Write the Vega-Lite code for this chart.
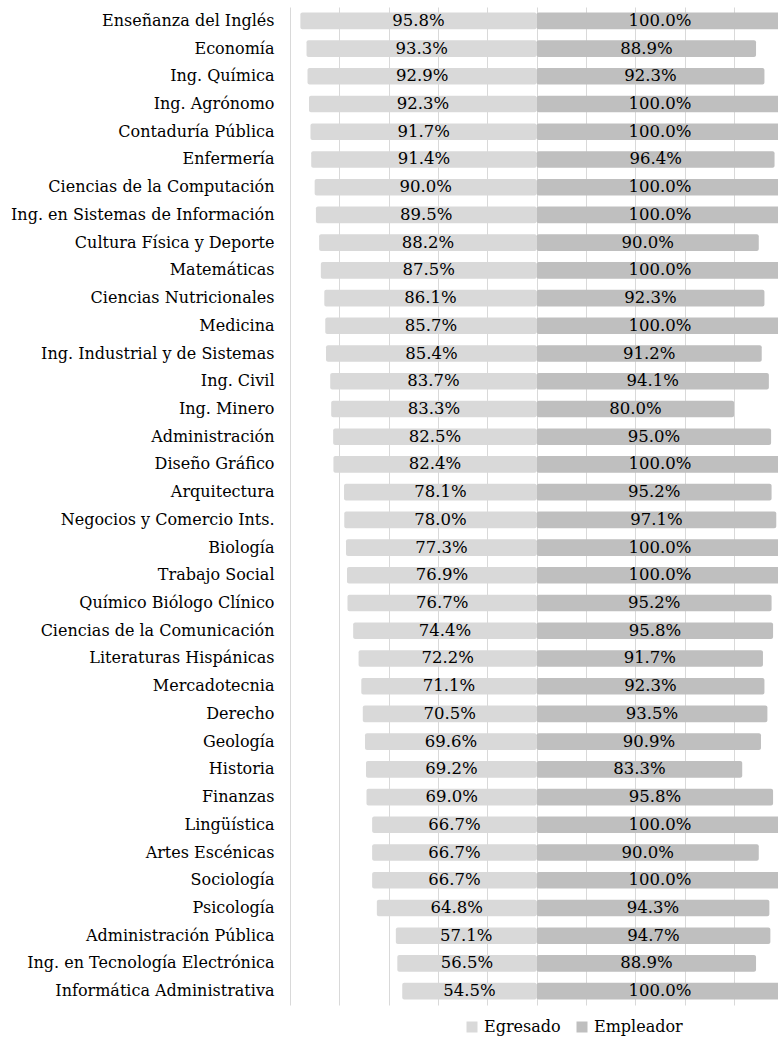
{
  "$schema": "https://vega.github.io/schema/vega-lite/v6.json",
  "width": 488,
  "height": 998,
  "autosize": {"type": "none"},
  "padding": {"left": 290, "top": 7, "right": 0, "bottom": 35},
  "background": "white",
  "config": {"view": {"stroke": null}, "font": "DejaVu Serif"},
  "data": {"values": [
    {"carrera": "Enseñanza del Inglés", "serie": "Egresado", "valor": 95.8},
    {"carrera": "Economía", "serie": "Egresado", "valor": 93.3},
    {"carrera": "Ing. Química", "serie": "Egresado", "valor": 92.9},
    {"carrera": "Ing. Agrónomo", "serie": "Egresado", "valor": 92.3},
    {"carrera": "Contaduría Pública", "serie": "Egresado", "valor": 91.7},
    {"carrera": "Enfermería", "serie": "Egresado", "valor": 91.4},
    {"carrera": "Ciencias de la Computación", "serie": "Egresado", "valor": 90.0},
    {"carrera": "Ing. en Sistemas de Información", "serie": "Egresado", "valor": 89.5},
    {"carrera": "Cultura Física y Deporte", "serie": "Egresado", "valor": 88.2},
    {"carrera": "Matemáticas", "serie": "Egresado", "valor": 87.5},
    {"carrera": "Ciencias Nutricionales", "serie": "Egresado", "valor": 86.1},
    {"carrera": "Medicina", "serie": "Egresado", "valor": 85.7},
    {"carrera": "Ing. Industrial y de Sistemas", "serie": "Egresado", "valor": 85.4},
    {"carrera": "Ing. Civil", "serie": "Egresado", "valor": 83.7},
    {"carrera": "Ing. Minero", "serie": "Egresado", "valor": 83.3},
    {"carrera": "Administración", "serie": "Egresado", "valor": 82.5},
    {"carrera": "Diseño Gráfico", "serie": "Egresado", "valor": 82.4},
    {"carrera": "Arquitectura", "serie": "Egresado", "valor": 78.1},
    {"carrera": "Negocios y Comercio Ints.", "serie": "Egresado", "valor": 78.0},
    {"carrera": "Biología", "serie": "Egresado", "valor": 77.3},
    {"carrera": "Trabajo Social", "serie": "Egresado", "valor": 76.9},
    {"carrera": "Químico Biólogo Clínico", "serie": "Egresado", "valor": 76.7},
    {"carrera": "Ciencias de la Comunicación", "serie": "Egresado", "valor": 74.4},
    {"carrera": "Literaturas Hispánicas", "serie": "Egresado", "valor": 72.2},
    {"carrera": "Mercadotecnia", "serie": "Egresado", "valor": 71.1},
    {"carrera": "Derecho ", "serie": "Egresado", "valor": 70.5},
    {"carrera": "Geología", "serie": "Egresado", "valor": 69.6},
    {"carrera": "Historia", "serie": "Egresado", "valor": 69.2},
    {"carrera": "Finanzas", "serie": "Egresado", "valor": 69.0},
    {"carrera": "Lingüística", "serie": "Egresado", "valor": 66.7},
    {"carrera": "Artes Escénicas", "serie": "Egresado", "valor": 66.7},
    {"carrera": "Sociología", "serie": "Egresado", "valor": 66.7},
    {"carrera": "Psicología", "serie": "Egresado", "valor": 64.8},
    {"carrera": "Administración Pública", "serie": "Egresado", "valor": 57.1},
    {"carrera": "Ing. en Tecnología Electrónica", "serie": "Egresado", "valor": 56.5},
    {"carrera": "Informática Administrativa", "serie": "Egresado", "valor": 54.5},
    {"carrera": "Enseñanza del Inglés", "serie": "Empleador", "valor": 100.0},
    {"carrera": "Economía", "serie": "Empleador", "valor": 88.9},
    {"carrera": "Ing. Química", "serie": "Empleador", "valor": 92.3},
    {"carrera": "Ing. Agrónomo", "serie": "Empleador", "valor": 100.0},
    {"carrera": "Contaduría Pública", "serie": "Empleador", "valor": 100.0},
    {"carrera": "Enfermería", "serie": "Empleador", "valor": 96.4},
    {"carrera": "Ciencias de la Computación", "serie": "Empleador", "valor": 100.0},
    {"carrera": "Ing. en Sistemas de Información", "serie": "Empleador", "valor": 100.0},
    {"carrera": "Cultura Física y Deporte", "serie": "Empleador", "valor": 90.0},
    {"carrera": "Matemáticas", "serie": "Empleador", "valor": 100.0},
    {"carrera": "Ciencias Nutricionales", "serie": "Empleador", "valor": 92.3},
    {"carrera": "Medicina", "serie": "Empleador", "valor": 100.0},
    {"carrera": "Ing. Industrial y de Sistemas", "serie": "Empleador", "valor": 91.2},
    {"carrera": "Ing. Civil", "serie": "Empleador", "valor": 94.1},
    {"carrera": "Ing. Minero", "serie": "Empleador", "valor": 80.0},
    {"carrera": "Administración", "serie": "Empleador", "valor": 95.0},
    {"carrera": "Diseño Gráfico", "serie": "Empleador", "valor": 100.0},
    {"carrera": "Arquitectura", "serie": "Empleador", "valor": 95.2},
    {"carrera": "Negocios y Comercio Ints.", "serie": "Empleador", "valor": 97.1},
    {"carrera": "Biología", "serie": "Empleador", "valor": 100.0},
    {"carrera": "Trabajo Social", "serie": "Empleador", "valor": 100.0},
    {"carrera": "Químico Biólogo Clínico", "serie": "Empleador", "valor": 95.2},
    {"carrera": "Ciencias de la Comunicación", "serie": "Empleador", "valor": 95.8},
    {"carrera": "Literaturas Hispánicas", "serie": "Empleador", "valor": 91.7},
    {"carrera": "Mercadotecnia", "serie": "Empleador", "valor": 92.3},
    {"carrera": "Derecho ", "serie": "Empleador", "valor": 93.5},
    {"carrera": "Geología", "serie": "Empleador", "valor": 90.9},
    {"carrera": "Historia", "serie": "Empleador", "valor": 83.3},
    {"carrera": "Finanzas", "serie": "Empleador", "valor": 95.8},
    {"carrera": "Lingüística", "serie": "Empleador", "valor": 100.0},
    {"carrera": "Artes Escénicas", "serie": "Empleador", "valor": 90.0},
    {"carrera": "Sociología", "serie": "Empleador", "valor": 100.0},
    {"carrera": "Psicología", "serie": "Empleador", "valor": 94.3},
    {"carrera": "Administración Pública", "serie": "Empleador", "valor": 94.7},
    {"carrera": "Ing. en Tecnología Electrónica", "serie": "Empleador", "valor": 88.9},
    {"carrera": "Informática Administrativa", "serie": "Empleador", "valor": 100.0}
  ]},
  "transform": [
    {"calculate": "datum.serie === 'Egresado' ? -datum.valor : datum.valor", "as": "pos"},
    {"calculate": "datum.pos / 2", "as": "mid"},
    {"calculate": "format(datum.valor, '.1f') + '%'", "as": "etiqueta"}
  ],
  "encoding": {
    "y": {
      "field": "carrera",
      "type": "nominal",
      "sort": null,
      "scale": {"paddingInner": 0.4, "paddingOuter": 0.2},
      "axis": {
        "title": null,
        "ticks": false,
        "domain": false,
        "labelFont": "DejaVu Serif",
        "labelFontSize": 16,
        "labelColor": "#000000",
        "labelPadding": 16,
        "labelLimit": 400
      }
    }
  },
  "layer": [
    {
      "mark": {"type": "bar", "clip": true, "cornerRadius": 2},
      "encoding": {
        "x": {
          "field": "pos",
          "type": "quantitative",
          "scale": {"domain": [-100, 97.8], "nice": false, "zero": false},
          "axis": {
            "title": null,
            "labels": false,
            "ticks": false,
            "domain": false,
            "grid": true,
            "gridColor": "#d9d9d9",
            "gridWidth": 1,
            "values": [-100, -80, -60, -40, -20, 0, 20, 40, 60, 80]
          }
        },
        "x2": {"datum": 0},
        "color": {
          "field": "serie",
          "type": "nominal",
          "sort": ["Egresado", "Empleador"],
          "scale": {"domain": ["Egresado", "Empleador"], "range": ["#d9d9d9", "#bfbfbf"]},
          "legend": {
            "orient": "none",
            "legendX": 174,
            "legendY": 1012,
            "direction": "horizontal",
            "title": null,
            "symbolType": "square",
            "symbolSize": 121,
            "symbolStrokeWidth": 0,
            "labelFont": "DejaVu Serif",
            "labelFontSize": 16,
            "labelColor": "#000000",
            "labelOffset": 4,
            "columnPadding": 13
          }
        }
      }
    },
    {
      "mark": {"type": "text", "font": "DejaVu Serif", "fontSize": 16.5, "color": "#000000", "baseline": "middle", "align": "center"},
      "encoding": {
        "x": {"field": "mid", "type": "quantitative"},
        "text": {"field": "etiqueta"}
      }
    }
  ]
}
